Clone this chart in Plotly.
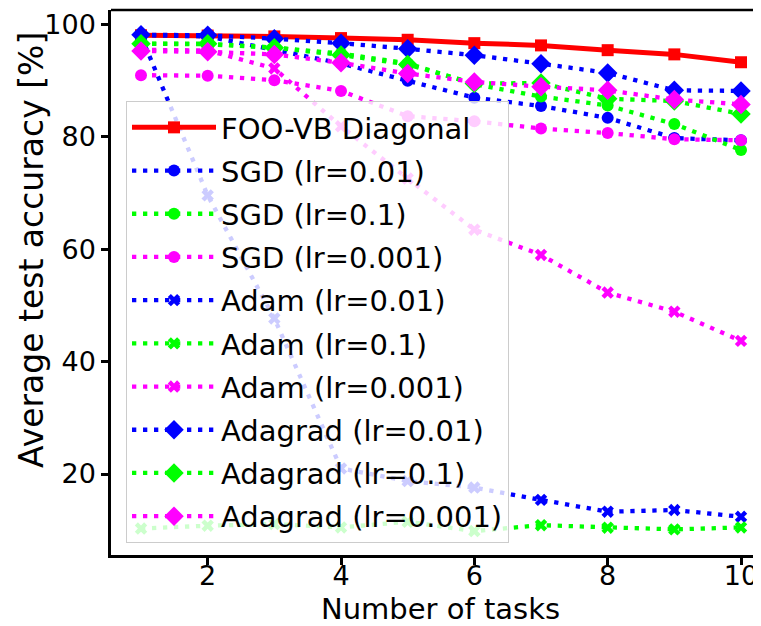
import plotly.graph_objects as go

tasks = [1, 2, 3, 4, 5, 6, 7, 8, 9, 10]

foo_vb = [98.1, 98.05, 97.9, 97.6, 97.3, 96.7, 96.3, 95.45, 94.7, 93.3]
sgd_lr001 = [98.1, 97.9, 95.5, 93.1, 90.0, 87.0, 85.5, 83.4, 79.8, 79.4]
sgd_lr01 = [96.6, 96.5, 95.9, 94.85, 93.1, 89.4, 87.2, 85.6, 82.3, 77.7]
sgd_lr0001 = [91.0, 90.9, 90.1, 88.2, 83.7, 82.8, 81.5, 80.7, 79.6, 79.4]
adam_lr001 = [98.0, 69.6, 47.7, 21.0, 18.75, 17.6, 15.4, 13.3, 13.6, 12.4]
adam_lr01 = [10.3, 10.8, 11.1, 10.5, 11.5, 9.85, 10.9, 10.45, 10.15, 10.5]
adam_lr0001 = [95.5, 95.4, 92.2, 81.9, 72.6, 63.5, 59.0, 52.3, 48.9, 43.7]
adagrad_lr001 = [98.2, 98.1, 97.5, 96.7, 95.7, 94.55, 93.05, 91.4, 88.3, 88.2]
adagrad_lr01 = [96.6, 96.6, 95.9, 94.6, 92.9, 89.5, 89.6, 86.8, 86.4, 84.1]
adagrad_lr0001 = [95.3, 95.15, 94.7, 93.2, 91.3, 89.8, 88.95, 88.3, 86.65, 85.8]

BLUE, GREEN, MAG, RED = "#0000ff", "#00ff00", "#ff00ff", "#ff0000"
DOT = "4.3px,6.7px"

series = [
    ("FOO-VB Diagonal", foo_vb, RED, "square", 12, "solid", 5),
    ("SGD (lr=0.01)", sgd_lr001, BLUE, "circle", 12, DOT, 4.3),
    ("SGD (lr=0.1)", sgd_lr01, GREEN, "circle", 12, DOT, 4.3),
    ("SGD (lr=0.001)", sgd_lr0001, MAG, "circle", 12, DOT, 4.3),
    ("Adam (lr=0.01)", adam_lr001, BLUE, "x", 11, DOT, 4.3),
    ("Adam (lr=0.1)", adam_lr01, GREEN, "x", 11, DOT, 4.3),
    ("Adam (lr=0.001)", adam_lr0001, MAG, "x", 11, DOT, 4.3),
    ("Adagrad (lr=0.01)", adagrad_lr001, BLUE, "diamond", 15, DOT, 4.3),
    ("Adagrad (lr=0.1)", adagrad_lr01, GREEN, "diamond", 15, DOT, 4.3),
    ("Adagrad (lr=0.001)", adagrad_lr0001, MAG, "diamond", 15, DOT, 4.3),
]

fig = go.Figure()
for i, (name, vals, col, sym, msz, dash, lw) in enumerate(series):
    fig.add_trace(go.Scatter(
        x=tasks, y=vals, name=name, mode="lines+markers",
        line=dict(color=col, width=lw, dash=dash),
        marker=dict(color=col, symbol=sym, size=msz, line=dict(width=0)),
        legendgroup="g%d" % i,
    ))

# page body has an 8px margin; figure is sized/offset to compensate
OFF = 8
W, H = 761 - OFF, 626 - OFF
L, T, B = 111 - OFF, 10 - OFF, 626 - 555
PW, PH = W - L, H - T - B

FONT = "DejaVu Sans"
fig.update_layout(
    width=W, height=H,
    margin=dict(l=L, r=0, t=T, b=B, autoexpand=False),
    paper_bgcolor="white", plot_bgcolor="white",
    font=dict(family=FONT, color="black", size=27),
    showlegend=True,
    legend=dict(
        x=(126 - 111) / PW, y=(555 - 101) / PH, xanchor="left", yanchor="top",
        bgcolor="rgba(255,255,255,0.8)", bordercolor="#cccccc", borderwidth=1,
        font=dict(family=FONT, size=29, color="black"),
        tracegroupgap=2.5, itemwidth=84,
    ),
    xaxis=dict(
        range=[0.55, 10.30], tickmode="array", tickvals=[2, 4, 6, 8, 10],
        showgrid=False, zeroline=False, showline=True, linecolor="black", linewidth=2.5,
        ticks="outside", ticklen=7, tickwidth=2.5, tickcolor="black",
        tickfont=dict(family=FONT, size=27), ticklabelstandoff=-12, automargin=False,
    ),
    yaxis=dict(
        range=[5.59, 102.6], tickmode="array", tickvals=[20, 40, 60, 80, 100],
        showgrid=False, zeroline=False, showline=True, linecolor="black", linewidth=2.5,
        ticks="outside", ticklen=7, tickwidth=2.5, tickcolor="black",
        tickfont=dict(family=FONT, size=27), automargin=False,
    ),
    shapes=[dict(type="line", xref="paper", yref="paper", x0=0, x1=1, y0=1, y1=1,
                 line=dict(color="black", width=2.5))],
    annotations=[
        dict(text="Number of tasks", xref="paper", yref="paper", x=(440 - 111) / PW,
             y=-(609 - 555) / PH, xanchor="center", yanchor="middle", showarrow=False,
             font=dict(family=FONT, size=29)),
        dict(text="Average test accuracy [%]", xref="paper", yref="paper",
             x=-(111 - 31) / PW, y=(555 - 250) / PH, xanchor="center", yanchor="middle",
             textangle=-90, showarrow=False, font=dict(family=FONT, size=33)),
    ],
)

fig.write_html("out.html")
